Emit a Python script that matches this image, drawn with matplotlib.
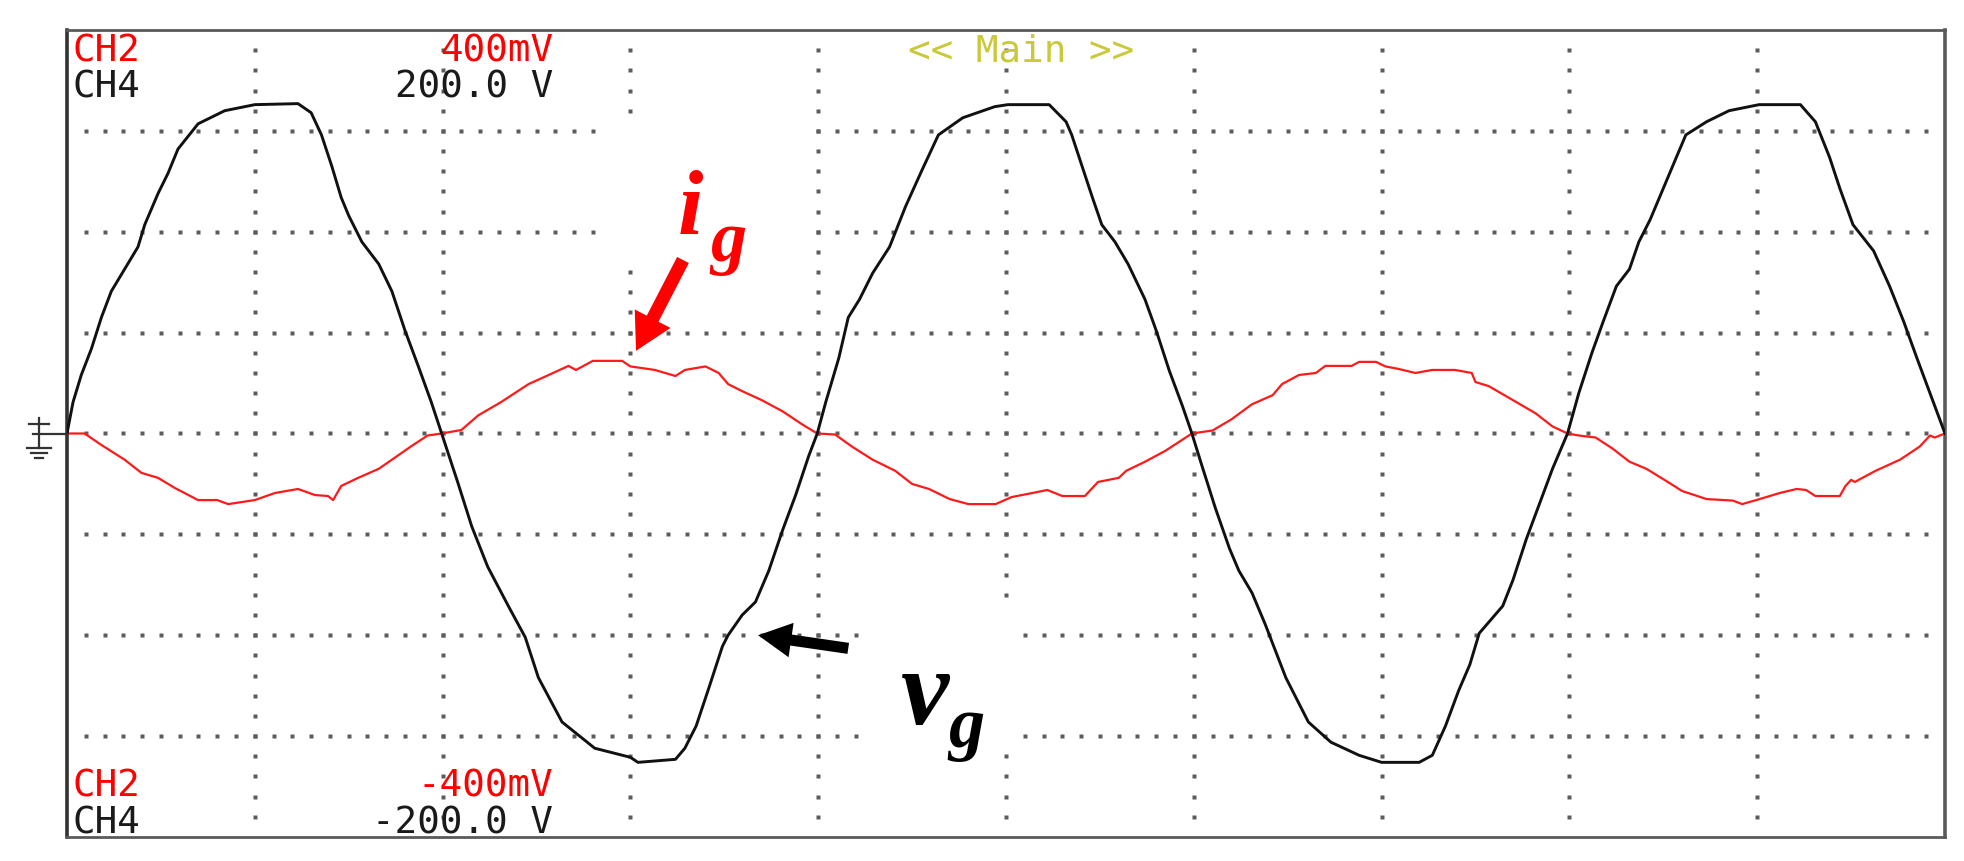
import numpy as np
import matplotlib
matplotlib.use("Agg")
import matplotlib.pyplot as plt
from matplotlib.patches import Rectangle
from matplotlib.lines import Line2D

# ---- data (screen divisions: x 0..10, y -4..4) ----
v_x = [0.0, 0.032, 0.076, 0.13, 0.183, 0.236, 0.307, 0.378, 0.414, 0.485, 0.538, 0.591, 0.698, 0.84,
       1.0, 1.23, 1.30, 1.355, 1.41, 1.46, 1.50, 1.57, 1.66, 1.73, 1.80, 1.87, 1.94, 1.995,
       2.08, 2.155, 2.24, 2.35, 2.44, 2.51, 2.636, 2.81, 3.0, 3.04, 3.24, 3.29, 3.35, 3.42, 3.49,
       3.52, 3.595, 3.666, 3.737, 3.81, 3.88, 3.95, 3.995,
       4.04, 4.11, 4.16, 4.22, 4.29, 4.38, 4.465, 4.55, 4.64, 4.77, 4.94, 5.01, 5.23, 5.32, 5.35,
       5.405, 5.46, 5.51, 5.58, 5.65, 5.74, 5.80, 5.87, 5.94, 5.99,
       6.04, 6.115, 6.19, 6.24, 6.31, 6.38, 6.49, 6.61, 6.73, 6.88, 7.0, 7.2, 7.27, 7.34, 7.41,
       7.47, 7.52, 7.645, 7.70, 7.77, 7.84, 7.91, 7.99,
       8.05, 8.12, 8.18, 8.25, 8.32, 8.37, 8.43, 8.50, 8.57, 8.62, 8.73, 8.85, 9.01, 9.23, 9.31,
       9.385, 9.44, 9.51, 9.62, 9.705, 9.78, 9.85, 9.92, 10.0]
v_y = [0.0, 0.31, 0.58, 0.84, 1.15, 1.41, 1.63, 1.85, 2.07, 2.38, 2.58, 2.82, 3.07, 3.20,
       3.26, 3.27, 3.18, 2.96, 2.65, 2.34, 2.16, 1.90, 1.68, 1.41, 1.02, 0.67, 0.31, 0.0,
       -0.48, -0.92, -1.32, -1.71, -2.02, -2.42, -2.86, -3.12, -3.21, -3.26, -3.23, -3.12, -2.90, -2.51, -2.11,
       -2.0, -1.80, -1.67, -1.36, -0.96, -0.61, -0.22, 0.0,
       0.31, 0.75, 1.15, 1.33, 1.59, 1.85, 2.25, 2.60, 2.96, 3.13, 3.24, 3.26, 3.26, 3.09, 2.96,
       2.65, 2.34, 2.07, 1.90, 1.68, 1.33, 1.02, 0.62, 0.27, 0.0,
       -0.30, -0.74, -1.14, -1.36, -1.58, -1.89, -2.42, -2.86, -3.06, -3.19, -3.26, -3.26, -3.19, -2.90, -2.55,
       -2.29, -1.98, -1.71, -1.45, -1.05, -0.70, -0.35, 0.0,
       0.40, 0.80, 1.11, 1.46, 1.63, 1.90, 2.12, 2.43, 2.74, 2.96, 3.09, 3.20, 3.26, 3.26, 3.09,
       2.74, 2.43, 2.07, 1.81, 1.46, 1.11, 0.75, 0.40, 0.0]

i_x = [0.0, 0.094, 0.18, 0.307, 0.396, 0.485, 0.574, 0.698, 0.80, 0.858, 1.0, 1.107, 1.23, 1.32,
       1.39, 1.417, 1.46, 1.55, 1.66, 1.73, 1.83, 1.92, 1.995,
       2.10, 2.19, 2.31, 2.458, 2.565, 2.67, 2.71, 2.80, 2.956, 3.0, 3.13, 3.24, 3.29, 3.40, 3.47,
       3.52, 3.595, 3.70, 3.81, 3.915, 3.995,
       4.09, 4.18, 4.29, 4.41, 4.50, 4.59, 4.70, 4.80, 4.945, 5.03, 5.14, 5.22, 5.30, 5.42, 5.49,
       5.60, 5.64, 5.74, 5.85, 5.99,
       6.10, 6.20, 6.31, 6.42, 6.47, 6.56, 6.65, 6.70, 6.84, 6.88, 6.97, 7.02, 7.09, 7.18, 7.27,
       7.39, 7.48, 7.50, 7.57, 7.70, 7.82, 7.91, 7.99,
       8.05, 8.14, 8.23, 8.32, 8.41, 8.515, 8.60, 8.73, 8.87, 8.92, 8.995, 9.12, 9.21, 9.26, 9.31,
       9.44, 9.47, 9.50, 9.52, 9.63, 9.76, 9.865, 9.92, 9.945, 10.0]
i_y = [0.0, 0.0, -0.11, -0.26, -0.39, -0.44, -0.54, -0.66, -0.66, -0.70, -0.66, -0.59, -0.55, -0.61,
       -0.62, -0.66, -0.52, -0.44, -0.35, -0.26, -0.13, -0.02, 0.0,
       0.035, 0.18, 0.31, 0.49, 0.58, 0.67, 0.63, 0.72, 0.72, 0.665, 0.63, 0.57, 0.63, 0.665, 0.60,
       0.49, 0.42, 0.33, 0.22, 0.09, 0.0,
       -0.01, -0.13, -0.26, -0.37, -0.50, -0.55, -0.65, -0.70, -0.70, -0.63, -0.59, -0.56, -0.62, -0.62, -0.48,
       -0.44, -0.37, -0.28, -0.17, 0.0,
       0.03, 0.14, 0.29, 0.38, 0.49, 0.58, 0.60, 0.67, 0.67, 0.71, 0.71, 0.665, 0.64, 0.60, 0.63,
       0.63, 0.60, 0.51, 0.47, 0.33, 0.20, 0.07, 0.0,
       -0.02, -0.04, -0.15, -0.28, -0.35, -0.47, -0.57, -0.65, -0.665, -0.70, -0.66, -0.59, -0.55, -0.56, -0.62,
       -0.62, -0.52, -0.46, -0.48, -0.37, -0.26, -0.13, -0.02, -0.04, 0.0]

top_labels = ["CH2", "CH4"]
top_scales = ["400mV", "200.0 V"]
bot_scales = ["-400mV", "-200.0 V"]
label_colors = ["#ff0000", "#1a1a1a"]

# ---- figure ----
W, H = 1964, 862
fig = plt.figure(figsize=(W / 100, H / 100), dpi=100)
L, R, T, B = 67, 1945, 31, 838
ax = fig.add_axes([L / W, 1 - B / H, (R - L) / W, (B - T) / H])
ax.set_xlim(0, 10)
ax.set_ylim(-4, 4)
ax.set_xticks([])
ax.set_yticks([])
for s in ax.spines.values():
    s.set_color("#5a5a5a")
    s.set_linewidth(2.0)
ax.spines["left"].set_color("#333333")
ax.spines["left"].set_linewidth(2.6)
ax.spines["right"].set_linewidth(2.6)

# dotted graticule
dot_kw = dict(linestyle="none", marker="s", markersize=2.4, color="#5c5c5c", mec="none", zorder=1)
hx = np.arange(1, 100) / 10.0
for yy in range(-3, 4):
    ax.plot(hx, np.full_like(hx, yy), **dot_kw)
vy = np.arange(-19, 20) / 5.0
for xx in range(1, 10):
    ax.plot(np.full_like(vy, xx), vy, **dot_kw)

# white boxes behind labels
ax.add_patch(Rectangle((2.84, 1.7), 1.14, 1.45, facecolor="white", edgecolor="none", zorder=2))
ax.add_patch(Rectangle((4.22, -3.1), 0.85, 1.35, facecolor="white", edgecolor="none", zorder=2))

# traces
ax.plot(i_x, i_y, color="#ff1a1a", lw=1.6, zorder=3)
ax.plot(v_x, v_y, color="#111111", lw=2.1, zorder=4)

# channel texts
mono = "DejaVu Sans Mono"
fs = 27
tk = dict(fontsize=fs, family=mono, va="baseline")
ax.text(0.03, 3.70, top_labels[0], color=label_colors[0], ha="left", **tk)
ax.text(0.03, 3.34, top_labels[1], color=label_colors[1], ha="left", **tk)
ax.text(2.59, 3.70, top_scales[0], color=label_colors[0], ha="right", **tk)
ax.text(2.59, 3.34, top_scales[1], color=label_colors[1], ha="right", **tk)
ax.text(0.03, -3.59, top_labels[0], color=label_colors[0], ha="left", **tk)
ax.text(0.03, -3.96, top_labels[1], color=label_colors[1], ha="left", **tk)
ax.text(2.59, -3.59, bot_scales[0], color=label_colors[0], ha="right", **tk)
ax.text(2.59, -3.96, bot_scales[1], color=label_colors[1], ha="right", **tk)
ax.text(5.08, 3.70, "<< Main >>", color="#c9c93a", ha="center", **tk)

# annotation labels
serif = "Liberation Serif"
lk = dict(family=serif, style="italic", weight="bold", ha="center", va="baseline", zorder=5)
ax.text(3.32, 2.00, "i", color="#ff0000", fontsize=66, **lk)
ax.text(3.52, 1.72, "g", color="#ff0000", fontsize=52, **lk)
ax.text(4.57, -2.87, "v", color="#000000", fontsize=78, **lk)
ax.text(4.79, -3.10, "g", color="#000000", fontsize=52, **lk)

# arrows
ax.annotate("", xy=(3.03, 0.82), xytext=(3.28, 1.72),
            arrowprops=dict(arrowstyle="simple,head_length=2.6,head_width=2.9,tail_width=0.95",
                            fc="#ff0000", ec="none", mutation_scale=10, shrinkA=0, shrinkB=0), zorder=5)
ax.annotate("", xy=(3.68, -2.0), xytext=(4.16, -2.13),
            arrowprops=dict(arrowstyle="simple,head_length=2.4,head_width=2.5,tail_width=0.8",
                            fc="#000000", ec="none", mutation_scale=10, shrinkA=0, shrinkB=0), zorder=5)

# ground marker at the left of the screen
def fx(px):
    return px / W
def fy(py):
    return 1 - py / H
gk = dict(color="#333333", lw=1.6, transform=fig.transFigure)
fig.add_artist(Line2D([fx(33), fx(67)], [fy(435), fy(435)], **gk))
fig.add_artist(Line2D([fx(39), fx(39)], [fy(419), fy(449)], **gk))
fig.add_artist(Line2D([fx(29), fx(49)], [fy(425), fy(425)], **gk))
fig.add_artist(Line2D([fx(27), fx(51)], [fy(449), fy(449)], **gk))
fig.add_artist(Line2D([fx(31), fx(47)], [fy(454), fy(454)], **gk))
fig.add_artist(Line2D([fx(35), fx(43)], [fy(459), fy(459)], **gk))

fig.savefig("out.png", dpi=100, facecolor="white")
